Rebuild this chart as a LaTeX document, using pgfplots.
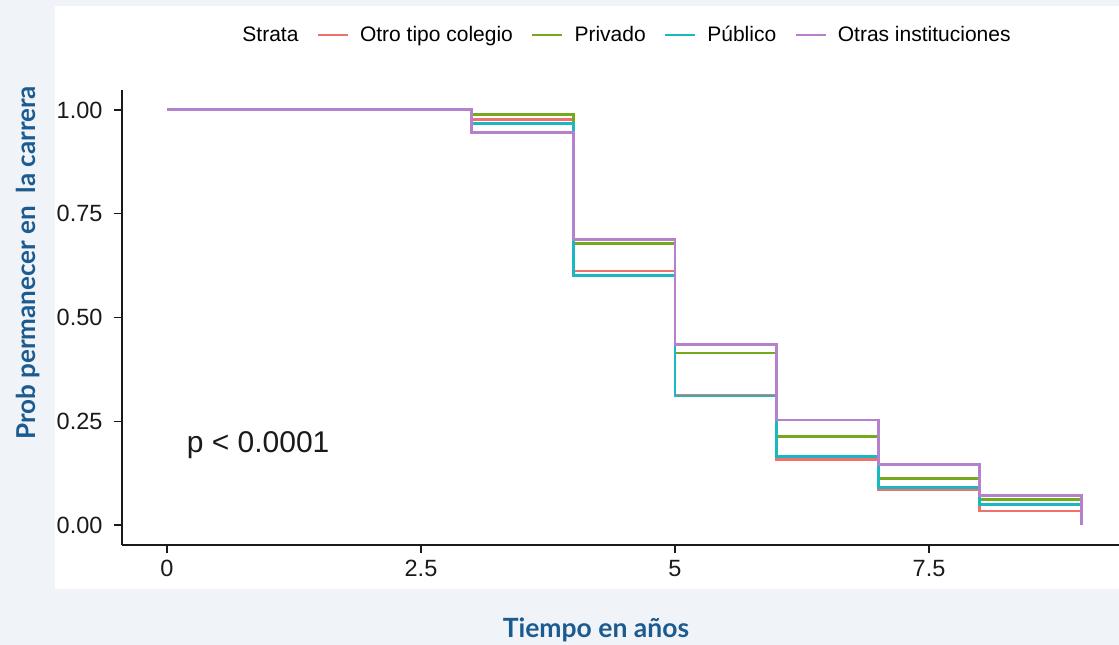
\documentclass[border=0pt]{standalone}
\usepackage{fontspec}
\setmainfont{Liberation Sans}
\newfontfamily\labfont{Lato}
\usepackage{pgfplots}
\pgfplotsset{compat=1.18}
\definecolor{bgc}{HTML}{F0F4F9}
\definecolor{labc}{HTML}{1B5B8F}
\definecolor{cotro}{HTML}{F0716B}
\definecolor{cpriv}{HTML}{74A91C}
\definecolor{cpub}{HTML}{1AB8C0}
\definecolor{cotras}{HTML}{B580CC}
\definecolor{tickc}{HTML}{1A1A1A}

\begin{document}
\begin{tikzpicture}[x=1pt,y=1pt]
\fill[bgc] (0,0) rectangle (1119,645);
\fill[white] (55,56) rectangle (1119,639);
\begin{axis}[
    at={(122pt,100pt)}, anchor=south west,
    width=997pt, height=455pt, scale only axis,
    xmin=-0.443, xmax=9.37, ymin=-0.048, ymax=1.048,
    axis lines*=left,
    axis line style={line width=1.5pt, tickc},
    tick align=outside, major tick length=8pt,
    tick style={line width=1.5pt, tickc},
    xtick={0,2.5,5,7.5}, xticklabels={0,2.5,5,7.5},
    ytick={0,0.25,0.5,0.75,1}, yticklabels={0.00,0.25,0.50,0.75,1.00},
    ticklabel style={font=\fontsize{23.5}{27}\selectfont, text=tickc},
    yticklabel style={xshift=-8pt},
    xticklabel style={yshift=-4pt},
    /pgf/number format/assume math mode=true,
    xlabel={\labfont\bfseries Tiempo en años},
    ylabel={\labfont\bfseries Prob permanecer en \ la carrera},
    xlabel style={at={(axis description cs:0.4754,-0.1868)}, anchor=center,
        font=\fontsize{26.5}{30}\selectfont, text=labc},
    ylabel style={at={(axis description cs:-0.0943,0.62)}, anchor=center,
        font=\fontsize{26}{30}\selectfont, text=labc},
    legend style={at={(axis description cs:0.5015,1.121)}, anchor=center,
        draw=none, fill=none, font=\fontsize{21}{25}\selectfont,
        /tikz/every even column/.append style={column sep=16pt},
        /tikz/every odd column/.append style={column sep=9pt}},
    legend columns=-1,
    legend image code/.code={\draw[#1, line width=2.6pt] (0pt,0pt) -- (30pt,0pt);},
    clip=false,
]
\addlegendimage{empty legend}
\addlegendentry{Strata}
\addplot[const plot, cotro, line width=2.9pt] coordinates {
  (0,1) (3,0.978) (4,0.612) (5,0.312) (6,0.158) (7,0.086) (8,0.034) (9,0.034)};
\addlegendentry{Otro tipo colegio}
\addplot[const plot, cpriv, line width=2.9pt] coordinates {
  (0,1) (3,0.990) (4,0.678) (5,0.4145) (6,0.213) (7,0.112) (8,0.062) (9,0.062)};
\addlegendentry{Privado}
\addplot[const plot, cpub, line width=2.9pt] coordinates {
  (0,1) (3,0.967) (4,0.602) (5,0.311) (6,0.165) (7,0.090) (8,0.050) (9,0.050)};
\addlegendentry{Público}
\addplot[const plot, cotras, line width=2.9pt] coordinates {
  (0,1) (3,0.945) (4,0.687) (5,0.435) (6,0.253) (7,0.145) (8,0.072) (9,0.0)};
\addlegendentry{Otras instituciones}
\node[anchor=west, font=\fontsize{30}{36}\selectfont, text=tickc] at (axis cs:0.16,0.193) {p < 0.0001};
\end{axis}
\pgfresetboundingbox
\path (0,0) rectangle (1119,645);
\end{tikzpicture}
\end{document}
